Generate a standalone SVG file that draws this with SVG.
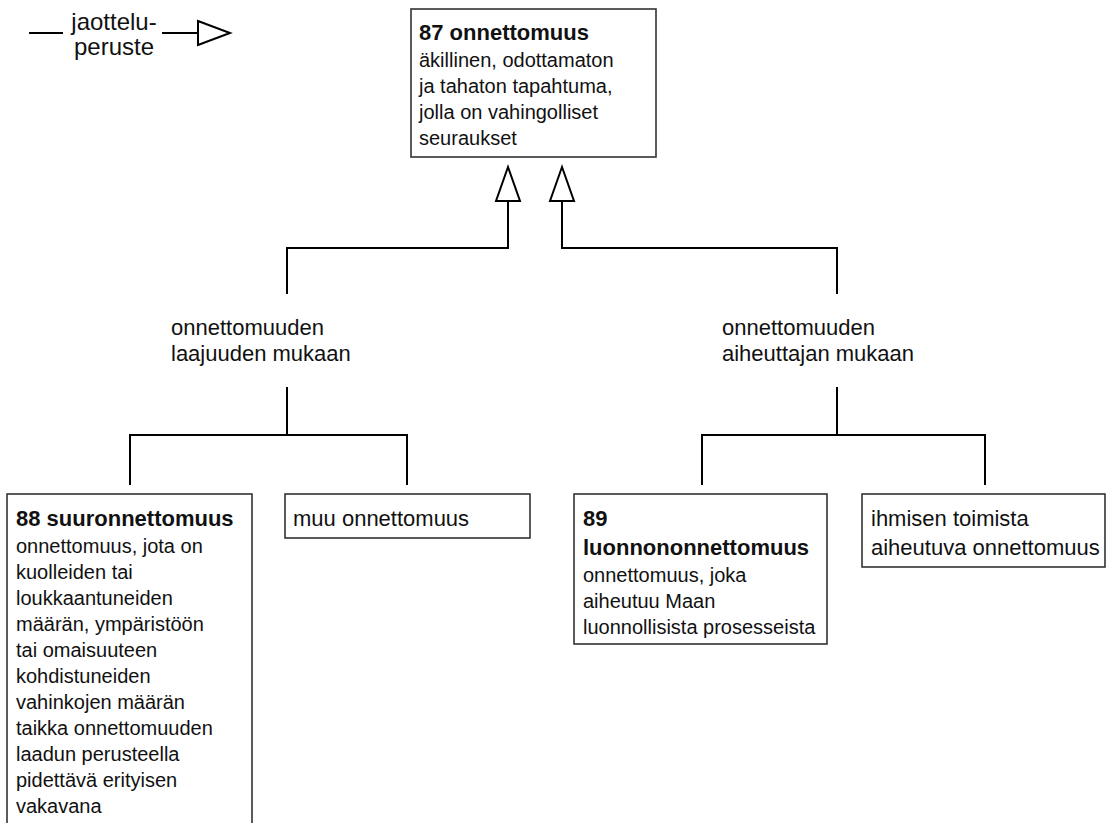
<svg xmlns="http://www.w3.org/2000/svg" width="1110" height="823" viewBox="0 0 1110 823">
<defs>
<style>
.box{fill:#fff;stroke:#333;stroke-width:1.6}
.ln{fill:none;stroke:#000;stroke-width:2}
.tri{fill:#fff;stroke:#000;stroke-width:2;stroke-linejoin:miter}
.t{font-family:"Liberation Sans",Arial,sans-serif;fill:#111}
.term{font-size:22px}
.b{font-size:22px;font-weight:bold}
.d{font-size:20px}
.lbl{font-size:22px}
.leg{font-size:24px}
</style>
</defs>
<rect width="1110" height="823" fill="#fff"/>
<g id="legend">
<line class="ln" x1="29" y1="33" x2="63" y2="33"/>
<line class="ln" x1="162" y1="33" x2="198" y2="33"/>
<polygon class="tri" points="198,21 198,45 230,33"/>
<text class="t leg" x="114" y="30" text-anchor="middle">jaottelu-</text>
<text class="t leg" x="114" y="55" text-anchor="middle">peruste</text>
</g>
<g id="connectors">
<polyline class="ln" points="508,201 508,248 287,248 287,294"/>
<polyline class="ln" points="562,201 562,248 837,248 837,294"/>
<polygon class="tri" points="508,167 496,201 520,201"/>
<polygon class="tri" points="562,167 550,201 574,201"/>
<line class="ln" x1="287" y1="387" x2="287" y2="435"/>
<polyline class="ln" points="130,485 130,435 407,435 407,485"/>
<line class="ln" x1="837" y1="387" x2="837" y2="435"/>
<polyline class="ln" points="702,485 702,435 985,435 985,485"/>
</g>
<g id="label-laajuus">
<text class="t lbl" x="171" y="335">onnettomuuden</text>
<text class="t lbl" x="171" y="361">laajuuden mukaan</text>
</g>
<g id="label-aiheuttaja">
<text class="t lbl" x="722" y="335">onnettomuuden</text>
<text class="t lbl" x="722" y="361">aiheuttajan mukaan</text>
</g>
<g id="node-87">
<rect class="box" x="411" y="9" width="245" height="148"/>
<text class="t b" x="419" y="40">87 onnettomuus</text>
<text class="t d" x="419" y="67">äkillinen, odottamaton</text>
<text class="t d" x="419" y="93">ja tahaton tapahtuma,</text>
<text class="t d" x="419" y="119">jolla on vahingolliset</text>
<text class="t d" x="419" y="145">seuraukset</text>
</g>
<g id="node-88">
<rect class="box" x="7" y="494" width="245" height="340"/>
<text class="t b" x="16" y="526">88 suuronnettomuus</text>
<text class="t d" x="16" y="553">onnettomuus, jota on</text>
<text class="t d" x="16" y="579">kuolleiden tai</text>
<text class="t d" x="16" y="605">loukkaantuneiden</text>
<text class="t d" x="16" y="631">määrän, ympäristöön</text>
<text class="t d" x="16" y="657">tai omaisuuteen</text>
<text class="t d" x="16" y="683">kohdistuneiden</text>
<text class="t d" x="16" y="709">vahinkojen määrän</text>
<text class="t d" x="16" y="735">taikka onnettomuuden</text>
<text class="t d" x="16" y="761">laadun perusteella</text>
<text class="t d" x="16" y="787">pidettävä erityisen</text>
<text class="t d" x="16" y="813">vakavana</text>
</g>
<g id="node-muu">
<rect class="box" x="285" y="494" width="245" height="44"/>
<text class="t term" x="293" y="526">muu onnettomuus</text>
</g>
<g id="node-89">
<rect class="box" x="574" y="494" width="253" height="150"/>
<text class="t b" x="583" y="526">89</text>
<text class="t b" x="583" y="555">luonnononnettomuus</text>
<text class="t d" x="583" y="582">onnettomuus, joka</text>
<text class="t d" x="583" y="608">aiheutuu Maan</text>
<text class="t d" x="583" y="634">luonnollisista prosesseista</text>
</g>
<g id="node-ihminen">
<rect class="box" x="862" y="494" width="243" height="73"/>
<text class="t term" x="871" y="526">ihmisen toimista</text>
<text class="t term" x="871" y="555">aiheutuva onnettomuus</text>
</g>
</svg>
